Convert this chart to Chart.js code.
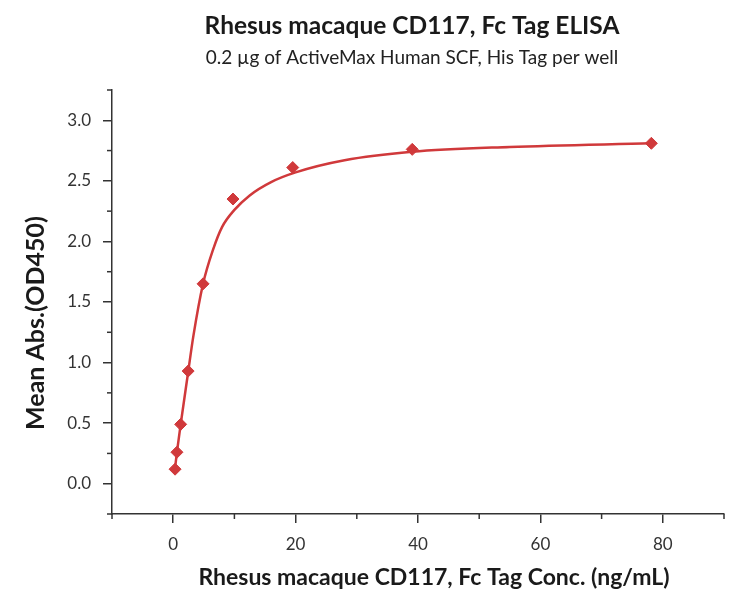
<!DOCTYPE html>
<html>
<head>
<meta charset="utf-8">
<script src="https://cdn.jsdelivr.net/npm/chart.js@4"></script>
<style>
  html, body { margin: 0; padding: 0; background: #fff; }
  #wrap { width: 731px; height: 591px; }
</style>
</head>
<body>
<div id="wrap"><canvas id="elisaChart"></canvas></div>
<script>
// measured concentrations (ng/mL) and mean OD450
const conc = [0.305, 0.61, 1.22, 2.44, 4.88, 9.77, 19.53, 39.06, 78.13];
const od450 = [0.12, 0.26, 0.49, 0.93, 1.65, 2.35, 2.61, 2.76, 2.81];

// fitted curve
const fitX = [0.305, 0.61, 1.22, 2.44, 3.3, 4.88, 6.5, 8.0, 10.0, 12.5, 16.0, 20.0, 28.0, 39.0, 55.0, 78.13];
const fitY = [0.13, 0.26, 0.49, 0.92, 1.22, 1.65, 1.93, 2.12, 2.26, 2.38, 2.49, 2.57, 2.67, 2.74, 2.78, 2.81];

const xTicks = [0, 20, 40, 60, 80];
const yTicks = [0, 0.5, 1.0, 1.5, 2.0, 2.5, 3.0];
const xMinor = [-10, 10, 30, 50, 70, 90];
const yMinor = [-0.25, 0.25, 0.75, 1.25, 1.75, 2.25, 2.75, 3.25];

const titleText = 'Rhesus macaque CD117, Fc Tag ELISA';
const subtitleText = '0.2 \u00b5g of ActiveMax Human SCF, His Tag per well';
const xTitleText = 'Rhesus macaque CD117, Fc Tag Conc. (ng/mL)';
const yTitleText = 'Mean Abs.(OD450)';

const red = '#d0393b';
const axisColor = '#333333';
const fontFamily = 'Lato, "Open Sans", sans-serif';

// headings, axis titles and minor ticks
const extrasPlugin = {
    id: 'extras',
    afterDraw(chart) {
        const ctx = chart.ctx;
        const area = chart.chartArea;
        const xs = chart.scales.x;
        const ys = chart.scales.y;
        ctx.save();
        ctx.strokeStyle = axisColor;
        ctx.lineWidth = 1.5;
        xMinor.forEach(v => {
            const px = xs.getPixelForValue(v);
            ctx.beginPath();
            ctx.moveTo(px, area.bottom);
            ctx.lineTo(px, area.bottom + 5);
            ctx.stroke();
        });
        yMinor.forEach(v => {
            const py = ys.getPixelForValue(v);
            ctx.beginPath();
            ctx.moveTo(area.left, py);
            ctx.lineTo(area.left - 5, py);
            ctx.stroke();
        });

        const cx = (area.left + area.right) / 2;
        ctx.fillStyle = '#1a1a1a';
        ctx.textAlign = 'center';
        ctx.textBaseline = 'middle';
        ctx.font = 'bold 24.5px ' + fontFamily;
        ctx.fillText(titleText, cx - 6, 26);
        ctx.font = '19px ' + fontFamily;
        ctx.fillStyle = '#222222';
        ctx.fillText(subtitleText, cx - 6, 58);

        // x axis title
        ctx.font = 'bold 23px ' + fontFamily;
        ctx.fillStyle = '#1a1a1a';
        ctx.fillText(xTitleText, cx + 16, 578);

        // y axis title
        ctx.save();
        ctx.translate(36, 323);
        ctx.rotate(-Math.PI / 2);
        ctx.font = 'bold 25px ' + fontFamily;
        ctx.fillText(yTitleText, 0, 0);
        ctx.restore();
        ctx.restore();
    }
};

document.addEventListener('DOMContentLoaded', function() {
    const el = document.getElementById('elisaChart');

    new Chart(el, {
        type: 'scatter',
        data: {
            datasets: [
                {
                    label: 'Mean Abs.',
                    data: conc.map((c, i) => ({ x: c, y: od450[i] })),
                    pointStyle: 'rectRot',
                    pointRadius: 6,
                    pointBackgroundColor: red,
                    pointBorderColor: red,
                    pointBorderWidth: 1,
                    showLine: false
                },
                {
                    label: 'Fit',
                    data: fitX.map((c, i) => ({ x: c, y: fitY[i] })),
                    showLine: true,
                    borderColor: red,
                    borderWidth: 2.5,
                    pointRadius: 0,
                    cubicInterpolationMode: 'monotone'
                }
            ]
        },
        options: {
            responsive: true,
            maintainAspectRatio: false,
            animation: false,
            layout: {
                padding: { top: 90, right: 4, bottom: 0, left: 0 }
            },
            plugins: {
                legend: { display: false },
                tooltip: { enabled: false }
            },
            scales: {
                x: {
                    type: 'linear',
                    min: -10,
                    max: 90,
                    afterBuildTicks: scale => { scale.ticks = xTicks.map(v => ({ value: v })); },
                    afterFit: scale => { scale.height = 77; },
                    border: { display: true, color: axisColor, width: 1.5 },
                    grid: {
                        display: true,
                        drawOnChartArea: false,
                        drawTicks: true,
                        tickLength: 9,
                        color: axisColor,
                        lineWidth: 1.5
                    },
                    ticks: {
                        color: axisColor,
                        padding: 11,
                        maxRotation: 0,
                        font: { family: fontFamily, size: 17 }
                    },
                    title: { display: false }
                },
                y: {
                    type: 'linear',
                    min: -0.25,
                    max: 3.25,
                    afterBuildTicks: scale => { scale.ticks = yTicks.map(v => ({ value: v })); },
                    afterFit: scale => { scale.width = 112; },
                    border: { display: true, color: axisColor, width: 1.5 },
                    grid: {
                        display: true,
                        drawOnChartArea: false,
                        drawTicks: true,
                        tickLength: 9,
                        color: axisColor,
                        lineWidth: 1.5
                    },
                    ticks: {
                        color: axisColor,
                        padding: 12,
                        font: { family: fontFamily, size: 17 },
                        callback: v => v.toFixed(1)
                    },
                    title: { display: false }
                }
            }
        },
        plugins: [extrasPlugin]
    });
});
</script>
</body>
</html>
